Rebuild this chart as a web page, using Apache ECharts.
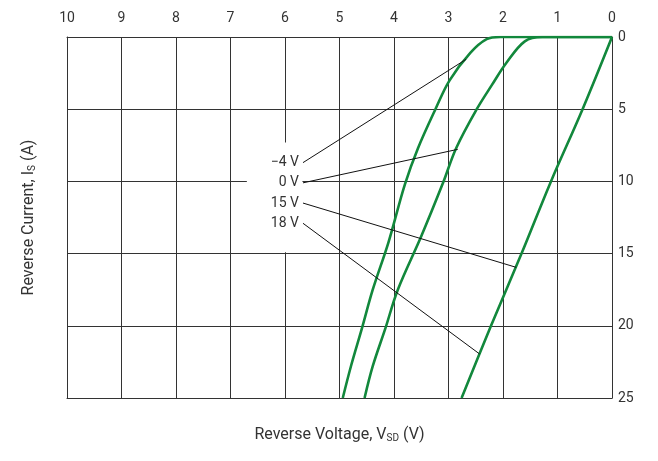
<!DOCTYPE html>
<html>
<head>
<meta charset="utf-8">
<script src="https://cdn.jsdelivr.net/npm/echarts@6/dist/echarts.min.js"></script>
<style>
  html, body { margin: 0; padding: 0; background: #fff; }
  #chart { width: 658px; height: 461px; }
</style>
</head>
<body>
<div id="chart"></div>
<script>
// tick values
const xTicks = [0, 1, 2, 3, 4, 5, 6, 7, 8, 9, 10];
const yTicks = [0, 5, 10, 15, 20, 25];

// curves: [reverse voltage V, reverse current A]
const curveM4 = [
  [0, 0], [2.05, 0], [2.3, 0.15], [2.6, 1.1], [2.98, 3.0], [3.24, 5.0], [3.56, 7.7],
  [3.8, 10.2], [4.1, 14.2], [4.39, 17.5], [4.59, 20.2], [4.79, 22.8], [4.94, 25]
];
const curve0 = [
  [0, 0], [1.28, 0], [1.6, 0.3], [1.94, 1.8], [2.2, 3.3], [2.49, 5.05], [2.86, 7.7],
  [3.1, 10.1], [3.5, 13.8], [3.93, 17.5], [4.16, 20.2], [4.39, 22.8], [4.54, 25]
];
const curve15 = [
  [0, 0], [0.54, 5.0], [1.12, 10], [1.66, 15], [2.22, 20], [2.76, 25]
];

// callouts: label, start (at text), end (on curve)
const calloutNames = ['\u22124 V', '0 V', '15 V', '18 V'];
const calloutFrom = [[5.67, 8.7], [5.67, 10.1], [5.67, 11.5], [5.67, 12.9]];
const calloutTo = [[2.675, 1.54], [2.83, 7.78], [1.76, 15.95], [2.43, 21.95]];

// white box behind the callout text
const boxFrom = [6.7, 7.3];
const boxTo = [5.68, 14.9];

const green = '#12883c';
const ink = '#333';
const font = 'Roboto';

const chart = echarts.init(document.getElementById('chart'));

const curveSeries = [curveM4, curve0, curve15].map((d) => ({
  type: 'line',
  xAxisIndex: 0,
  yAxisIndex: 0,
  data: d,
  smooth: 0.35,
  showSymbol: false,
  z: 3,
  lineStyle: { color: green, width: 2.6 },
  silent: true
}));

const calloutSeries = calloutNames.map((name, i) => ({
  type: 'line',
  xAxisIndex: 0,
  yAxisIndex: 0,
  data: [
    {
      value: calloutFrom[i],
      label: {
        show: true, position: 'left', distance: 4, formatter: name,
        color: ink, fontFamily: font, fontSize: 14
      }
    },
    { value: calloutTo[i], label: { show: false } }
  ],
  symbol: 'circle',
  symbolSize: 0,
  showSymbol: true,
  z: 4,
  lineStyle: { color: '#111', width: 1 },
  silent: true
}));

const subStyle = { fontSize: 10, verticalAlign: 'bottom', padding: [7, 0, 0, 0], color: ink, fontFamily: font };

chart.setOption({
  animation: false,
  backgroundColor: '#fff',
  grid: { left: 67, right: 46, top: 37, bottom: 63 },
  xAxis: [
    {
      type: 'value', position: 'top', inverse: true,
      min: xTicks[0], max: xTicks[xTicks.length - 1], interval: 1,
      axisLine: { show: true, lineStyle: { color: ink } },
      axisTick: { show: false },
      axisLabel: { margin: 12, color: ink, fontFamily: font, fontSize: 14 },
      splitLine: { show: true, lineStyle: { color: ink, width: 1 } }
    },
    {
      type: 'value', position: 'bottom', inverse: true,
      min: xTicks[0], max: xTicks[xTicks.length - 1], interval: 1,
      axisLine: { show: true, onZero: false, lineStyle: { color: ink } },
      axisTick: { show: false },
      axisLabel: { show: false },
      splitLine: { show: false },
      name: 'Reverse Voltage, V{sub|SD} (V)',
      nameLocation: 'middle', nameGap: 28,
      nameTextStyle: { color: ink, fontFamily: font, fontSize: 16, rich: { sub: subStyle } }
    }
  ],
  yAxis: [
    {
      type: 'value', position: 'right', inverse: true,
      min: yTicks[0], max: yTicks[yTicks.length - 1], interval: 5,
      axisLine: { show: true, lineStyle: { color: ink } },
      axisTick: { show: false },
      axisLabel: { margin: 6, color: ink, fontFamily: font, fontSize: 14 },
      splitLine: { show: true, lineStyle: { color: ink, width: 1 } }
    },
    {
      type: 'value', position: 'left', inverse: true,
      min: yTicks[0], max: yTicks[yTicks.length - 1], interval: 5,
      axisLine: { show: true, onZero: false, lineStyle: { color: ink } },
      axisTick: { show: false },
      axisLabel: { show: false },
      splitLine: { show: false },
      name: 'Reverse Current, I{sub|S} (A)',
      nameLocation: 'middle', nameGap: 30, nameRotate: 90,
      nameTextStyle: { color: ink, fontFamily: font, fontSize: 16, rich: { sub: subStyle } }
    }
  ],
  series: [
    {
      type: 'line',
      xAxisIndex: 0,
      yAxisIndex: 0,
      data: [],
      z: 1,
      silent: true,
      markArea: {
        silent: true,
        itemStyle: { color: '#fff', opacity: 1 },
        data: [[{ coord: boxFrom }, { coord: boxTo }]]
      }
    },
    ...curveSeries,
    ...calloutSeries
  ]
});
</script>
</body>
</html>
